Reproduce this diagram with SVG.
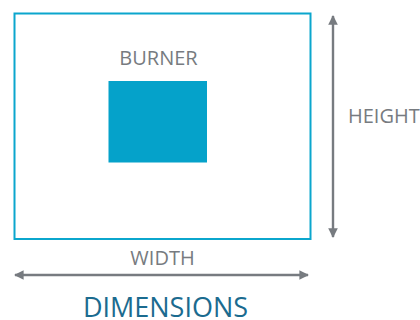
<svg xmlns="http://www.w3.org/2000/svg" width="420" height="320" viewBox="0 0 420 320">
<style>
.lbl{font-family:"Open Sans","Liberation Sans",sans-serif;fill:#777b80;font-size:20px}
.ttl{font-family:"Open Sans","Liberation Sans",sans-serif;fill:#1b6b8f;font-size:27px}
.dim{stroke:#777b80;stroke-width:2.4;fill:none}
</style>
<defs>
<marker id="ah" viewBox="0 0 10 10" refX="9" refY="5" markerWidth="4" markerHeight="4" orient="auto-start-reverse" markerUnits="strokeWidth">
<path d="M0,0 L10,5 L0,10 z" fill="#777b80"/>
</marker>
</defs>
<rect width="420" height="320" fill="#fff"/>
<g id="outer"><rect x="14.5" y="13.5" width="296" height="225.5" fill="#fff" stroke="#0ba6cd" stroke-width="2"/></g>
<g id="burner">
<rect x="108.5" y="81" width="98.5" height="81.5" fill="#05a2ca"/>
<text class="lbl" x="158.5" y="65" text-anchor="middle">BURNER</text>
</g>
<g id="connectors">
<line class="dim" x1="333" y1="16" x2="333" y2="237" marker-start="url(#ah)" marker-end="url(#ah)"/>
<line class="dim" x1="15" y1="275" x2="308" y2="275" marker-start="url(#ah)" marker-end="url(#ah)"/>
</g>
<g id="labels">
<text class="lbl" x="348" y="123">HEIGHT</text>
<text class="lbl" x="162.5" y="265" text-anchor="middle">WIDTH</text>
<text class="ttl" x="165.5" y="316.5" text-anchor="middle">DIMENSIONS</text>
</g>
</svg>
